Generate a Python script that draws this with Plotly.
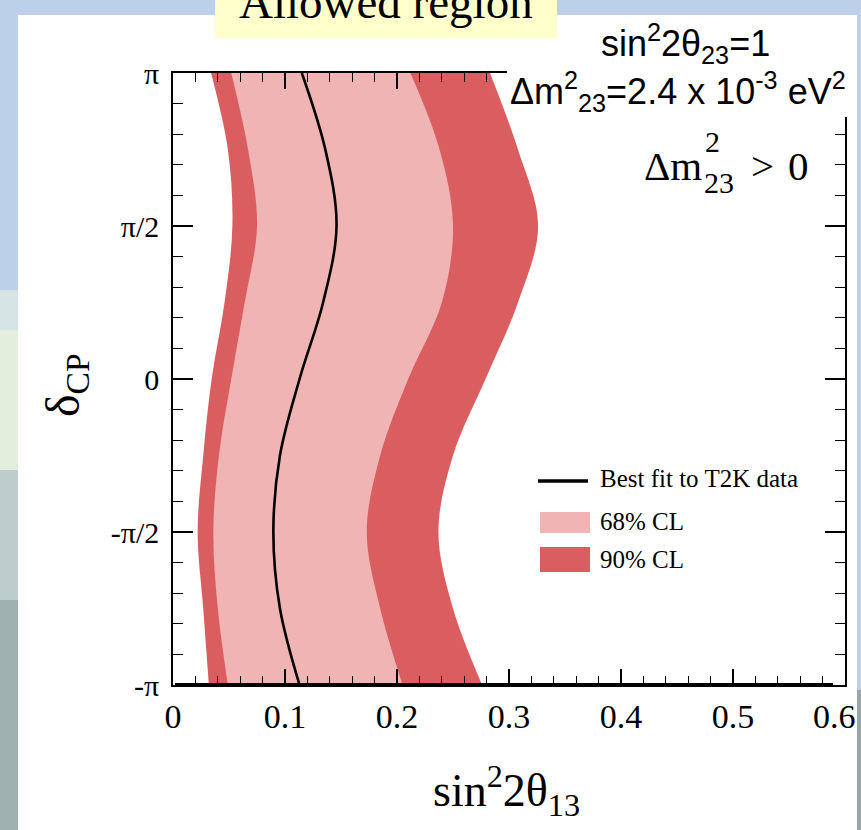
import numpy as np
import plotly.graph_objects as go

PI = np.pi

# delta_CP sampling points (rad) and the contour edges in sin^2(2 theta_13)
delta_cp = [-PI, -0.75 * PI, -0.5 * PI, -0.25 * PI, 0.0, 0.25 * PI, 0.5 * PI, 0.75 * PI, PI]
cl90_low = [0.032, 0.027, 0.022, 0.027, 0.0345, 0.046, 0.053, 0.049, 0.034]
cl68_low = [0.049, 0.040, 0.036, 0.041, 0.052, 0.064, 0.075, 0.067, 0.052]
best_fit = [0.113, 0.0955, 0.0896, 0.0955, 0.113, 0.134, 0.146, 0.136, 0.115]
cl68_high = [0.205, 0.185, 0.173, 0.185, 0.210, 0.240, 0.250, 0.238, 0.212]
cl90_high = [0.276, 0.250, 0.237, 0.250, 0.279, 0.308, 0.326, 0.308, 0.283]

x_ticks = [0, 0.1, 0.2, 0.3, 0.4, 0.5, 0.6]
x_ticktext = ["0", "0.1", "0.2", "0.3", "0.4", "0.5", "0.6"]
y_ticks = [-PI, -PI / 2, 0, PI / 2, PI]
y_ticktext = ["-π", "-π/2", "0", "π/2", "π"]

legend_labels = ["Best fit to T2K data", "68% CL", "90% CL"]

DARK = "#DA5D5F"
LIGHT = "#F0B4B4"
SERIF = "Liberation Serif"
SANS = "Liberation Sans"

W, H = 861, 830
ML, MR, MT, MB = 173, 16, 73, 145
PW, PH = W - ML - MR, H - MT - MB


def px(x):
    return (x - ML) / PW


def py(y):
    return (H - MB - y) / PH


fig = go.Figure()

# 90% CL band (left edge, then right edge filled back to it)
fig.add_trace(go.Scatter(x=cl90_low, y=delta_cp, mode="lines",
                         line=dict(width=0, shape="spline", color=DARK),
                         showlegend=False, hoverinfo="skip"))
fig.add_trace(go.Scatter(x=cl90_high, y=delta_cp, mode="lines", fill="tonextx",
                         fillcolor=DARK, line=dict(width=0, shape="spline", color=DARK),
                         name=legend_labels[2], showlegend=False))
# 68% CL band
fig.add_trace(go.Scatter(x=cl68_low, y=delta_cp, mode="lines",
                         line=dict(width=0, shape="spline", color=LIGHT),
                         showlegend=False, hoverinfo="skip"))
fig.add_trace(go.Scatter(x=cl68_high, y=delta_cp, mode="lines", fill="tonextx",
                         fillcolor=LIGHT, line=dict(width=0, shape="spline", color=LIGHT),
                         name=legend_labels[1], showlegend=False))
# best fit curve
fig.add_trace(go.Scatter(x=best_fit, y=delta_cp, mode="lines",
                         line=dict(width=2.6, shape="spline", color="black"),
                         name=legend_labels[0], showlegend=False))

shapes = []
# slide background: white panel, decorative side strips, title box
shapes.append(dict(type="rect", xref="paper", yref="paper", layer="below",
                   x0=px(18), x1=px(857), y0=py(15), y1=py(H), fillcolor="white", line_width=0))
for (y0, y1, col) in [(290, 330, "#D6E4E6"), (330, 470, "#E4EEDC"), (470, 600, "#BCCDCB"),
                      (600, 830, "#9FB2B1")]:
    shapes.append(dict(type="rect", xref="paper", yref="paper", layer="below",
                       x0=px(0), x1=px(18), y0=py(y0), y1=py(y1), fillcolor=col, line_width=0))
shapes.append(dict(type="rect", xref="paper", yref="paper", layer="below",
                   x0=px(857), x1=px(W), y0=py(690), y1=py(H), fillcolor="#98A6AA", line_width=0))
shapes.append(dict(type="rect", xref="paper", yref="paper", layer="below",
                   x0=px(215), x1=px(557), y0=py(0), y1=py(38), fillcolor="#FFFFCC", line_width=0))

# thick bottom axis bar
shapes.append(dict(type="line", xref="paper", yref="paper", layer="above",
                   x0=px(175), x1=px(833), y0=0, y1=0, line=dict(color="black", width=4)))

# white label box over the top-right corner of the frame
shapes.append(dict(type="rect", xref="paper", yref="paper", layer="above",
                   x0=px(507), x1=px(850), y0=py(63), y1=py(117), fillcolor="white", line_width=0))

# legend keys
shapes.append(dict(type="line", xref="paper", yref="paper", layer="above",
                   x0=px(538), x1=px(588), y0=py(481), y1=py(481), line=dict(color="black", width=3.5)))
shapes.append(dict(type="rect", xref="paper", yref="paper", layer="above",
                   x0=px(540), x1=px(590), y0=py(512), y1=py(533), fillcolor=LIGHT, line_width=0))
shapes.append(dict(type="rect", xref="paper", yref="paper", layer="above",
                   x0=px(540), x1=px(590), y0=py(547), y1=py(572), fillcolor=DARK, line_width=0))

annotations = []


def label(text, x, y, size, family=SERIF, xanchor="center", yanchor="middle", **kw):
    annotations.append(dict(text=text, x=px(x), y=py(y), xref="paper", yref="paper",
                            showarrow=False, xanchor=xanchor, yanchor=yanchor,
                            font=dict(family=family, size=size, color="black"), **kw))


label("Allowed region", 386, 2, 47)
label("sin<sup>2</sup>2θ<sub>23</sub>=1", 685, 44, 36, family=SANS)
label("Δm<sup>2</sup><sub>23</sub>=2.4 x 10<sup>-3</sup> eV<sup>2</sup>", 678, 91, 36, family=SANS)

label("Δm", 704, 166, 41, xanchor="right")
label("2", 703, 141, 30, xanchor="left")
label("23", 702, 182, 30, xanchor="left")
label(">", 749, 166, 41, xanchor="left")
label("0", 786, 166, 41, xanchor="left")

for txt, yy in zip(legend_labels, [478, 521, 559]):
    label(txt, 598, yy, 25, xanchor="left")

# last x tick label sits against the slide edge, so it is right-aligned there
label(x_ticktext[-1], 858, 716, 34, xanchor="right")

label("sin<sup>2</sup>2θ<sub>13</sub>", 506, 790, 46)
label("δ<sub>CP</sub>", 66, 385, 48, textangle=-90)

fig.update_layout(
    width=W, height=H,
    margin=dict(l=ML, r=MR, t=MT, b=MB, pad=0, autoexpand=False),
    paper_bgcolor="#BDD0EA",
    plot_bgcolor="white",
    shapes=shapes,
    annotations=annotations,
    showlegend=False,
)

fig.update_xaxes(
    range=[0, 0.6], tickvals=x_ticks, ticktext=x_ticktext[:-1] + [""],
    tickfont=dict(family=SERIF, size=34, color="black"),
    ticks="inside", ticklen=16, tickwidth=1.5, tickcolor="black",
    showline=True, linecolor="black", linewidth=1.5, mirror="ticks",
    minor=dict(dtick=0.02, tick0=0, ticks="inside", ticklen=9, tickcolor="black", tickwidth=1.2),
    showgrid=False, zeroline=False, ticklabeloverflow="allow", automargin=False,
)
fig.update_yaxes(
    range=[-PI, PI], tickvals=y_ticks, ticktext=y_ticktext,
    tickfont=dict(family=SERIF, size=30, color="black"),
    ticks="inside", ticklen=20, tickwidth=1.5, tickcolor="black",
    showline=True, linecolor="black", linewidth=1.5, mirror="ticks",
    minor=dict(tickvals=[k * PI / 10 for k in range(-10, 11)], ticks="inside", ticklen=10,
               tickcolor="black", tickwidth=1.2),
    showgrid=False, zeroline=False, ticklabelstandoff=6, ticklabeloverflow="allow",
    automargin=False,
)

fig.write_html("out.html")
